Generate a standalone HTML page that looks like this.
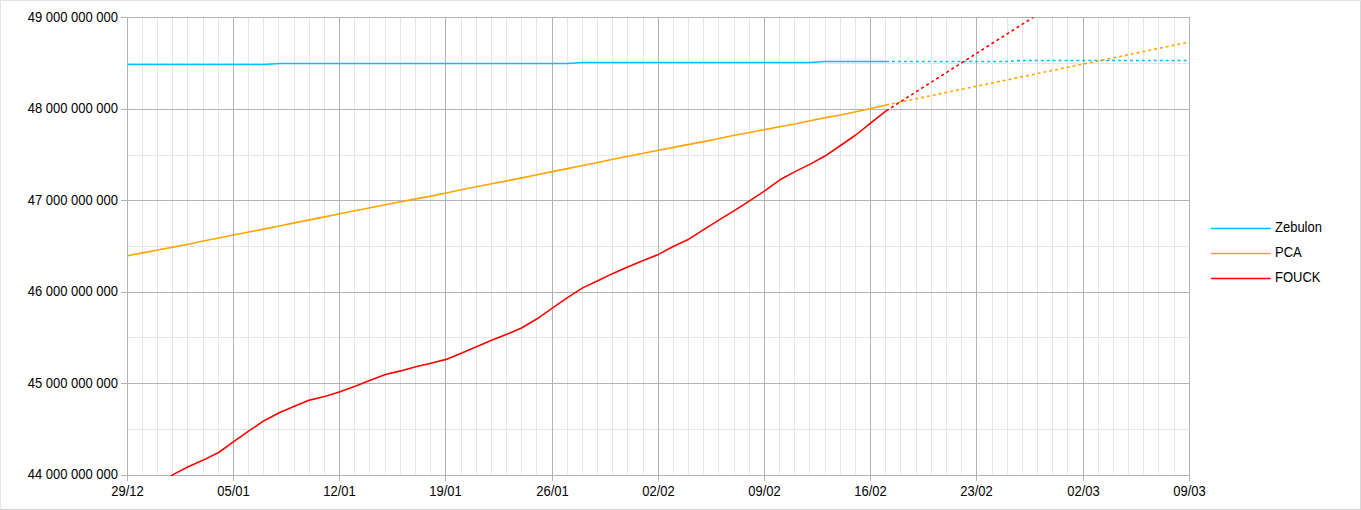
<!DOCTYPE html>
<html><head><meta charset="utf-8"><style>
html,body{margin:0;padding:0;background:#fff;}
body{width:1361px;height:510px;overflow:hidden;position:relative;}
svg{position:absolute;left:0;top:0;}
text{font-family:"Liberation Sans",sans-serif;font-size:13px;fill:#000;}
</style></head><body>
<div style="position:absolute;left:0;top:0;width:1361px;height:1px;background:#e4e4e4"></div>
<div style="position:absolute;left:0;top:0;width:1px;height:510px;background:#e4e4e4"></div>
<div style="position:absolute;left:1360px;top:1px;width:1px;height:509px;background:#d8d8d8"></div>
<div style="position:absolute;left:1px;top:509px;width:1360px;height:1px;background:#d2d2d2"></div>
<svg width="1361" height="510" viewBox="0 0 1361 510">
<defs><clipPath id="plot"><rect x="127" y="17.6" width="1063" height="458.4"/></clipPath></defs>
<rect x="142" y="17" width="1" height="458" fill="#e6e6e6"/>
<rect x="157" y="17" width="1" height="458" fill="#e6e6e6"/>
<rect x="172" y="17" width="1" height="458" fill="#e6e6e6"/>
<rect x="187" y="17" width="1" height="458" fill="#e6e6e6"/>
<rect x="203" y="17" width="1" height="458" fill="#e6e6e6"/>
<rect x="218" y="17" width="1" height="458" fill="#e6e6e6"/>
<rect x="248" y="17" width="1" height="458" fill="#e6e6e6"/>
<rect x="263" y="17" width="1" height="458" fill="#e6e6e6"/>
<rect x="278" y="17" width="1" height="458" fill="#e6e6e6"/>
<rect x="294" y="17" width="1" height="458" fill="#e6e6e6"/>
<rect x="309" y="17" width="1" height="458" fill="#e6e6e6"/>
<rect x="324" y="17" width="1" height="458" fill="#e6e6e6"/>
<rect x="354" y="17" width="1" height="458" fill="#e6e6e6"/>
<rect x="369" y="17" width="1" height="458" fill="#e6e6e6"/>
<rect x="385" y="17" width="1" height="458" fill="#e6e6e6"/>
<rect x="400" y="17" width="1" height="458" fill="#e6e6e6"/>
<rect x="415" y="17" width="1" height="458" fill="#e6e6e6"/>
<rect x="430" y="17" width="1" height="458" fill="#e6e6e6"/>
<rect x="461" y="17" width="1" height="458" fill="#e6e6e6"/>
<rect x="476" y="17" width="1" height="458" fill="#e6e6e6"/>
<rect x="491" y="17" width="1" height="458" fill="#e6e6e6"/>
<rect x="506" y="17" width="1" height="458" fill="#e6e6e6"/>
<rect x="521" y="17" width="1" height="458" fill="#e6e6e6"/>
<rect x="536" y="17" width="1" height="458" fill="#e6e6e6"/>
<rect x="567" y="17" width="1" height="458" fill="#e6e6e6"/>
<rect x="582" y="17" width="1" height="458" fill="#e6e6e6"/>
<rect x="597" y="17" width="1" height="458" fill="#e6e6e6"/>
<rect x="612" y="17" width="1" height="458" fill="#e6e6e6"/>
<rect x="627" y="17" width="1" height="458" fill="#e6e6e6"/>
<rect x="643" y="17" width="1" height="458" fill="#e6e6e6"/>
<rect x="673" y="17" width="1" height="458" fill="#e6e6e6"/>
<rect x="688" y="17" width="1" height="458" fill="#e6e6e6"/>
<rect x="703" y="17" width="1" height="458" fill="#e6e6e6"/>
<rect x="718" y="17" width="1" height="458" fill="#e6e6e6"/>
<rect x="734" y="17" width="1" height="458" fill="#e6e6e6"/>
<rect x="749" y="17" width="1" height="458" fill="#e6e6e6"/>
<rect x="779" y="17" width="1" height="458" fill="#e6e6e6"/>
<rect x="794" y="17" width="1" height="458" fill="#e6e6e6"/>
<rect x="809" y="17" width="1" height="458" fill="#e6e6e6"/>
<rect x="825" y="17" width="1" height="458" fill="#e6e6e6"/>
<rect x="840" y="17" width="1" height="458" fill="#e6e6e6"/>
<rect x="855" y="17" width="1" height="458" fill="#e6e6e6"/>
<rect x="885" y="17" width="1" height="458" fill="#e6e6e6"/>
<rect x="900" y="17" width="1" height="458" fill="#e6e6e6"/>
<rect x="916" y="17" width="1" height="458" fill="#e6e6e6"/>
<rect x="931" y="17" width="1" height="458" fill="#e6e6e6"/>
<rect x="946" y="17" width="1" height="458" fill="#e6e6e6"/>
<rect x="961" y="17" width="1" height="458" fill="#e6e6e6"/>
<rect x="992" y="17" width="1" height="458" fill="#e6e6e6"/>
<rect x="1007" y="17" width="1" height="458" fill="#e6e6e6"/>
<rect x="1022" y="17" width="1" height="458" fill="#e6e6e6"/>
<rect x="1037" y="17" width="1" height="458" fill="#e6e6e6"/>
<rect x="1052" y="17" width="1" height="458" fill="#e6e6e6"/>
<rect x="1067" y="17" width="1" height="458" fill="#e6e6e6"/>
<rect x="1098" y="17" width="1" height="458" fill="#e6e6e6"/>
<rect x="1113" y="17" width="1" height="458" fill="#e6e6e6"/>
<rect x="1128" y="17" width="1" height="458" fill="#e6e6e6"/>
<rect x="1143" y="17" width="1" height="458" fill="#e6e6e6"/>
<rect x="1158" y="17" width="1" height="458" fill="#e6e6e6"/>
<rect x="1174" y="17" width="1" height="458" fill="#e6e6e6"/>
<rect x="128" y="63" width="1061" height="1" fill="#e6e6e6"/>
<rect x="128" y="155" width="1061" height="1" fill="#e6e6e6"/>
<rect x="128" y="246" width="1061" height="1" fill="#e6e6e6"/>
<rect x="128" y="337" width="1061" height="1" fill="#e6e6e6"/>
<rect x="128" y="429" width="1061" height="1" fill="#e6e6e6"/>
<rect x="121" y="17" width="1069" height="1" fill="#b3b3b3"/>
<rect x="121" y="109" width="1069" height="1" fill="#b3b3b3"/>
<rect x="121" y="200" width="1069" height="1" fill="#b3b3b3"/>
<rect x="121" y="292" width="1069" height="1" fill="#b3b3b3"/>
<rect x="121" y="383" width="1069" height="1" fill="#b3b3b3"/>
<rect x="121" y="475" width="1069" height="1" fill="#b3b3b3"/>
<rect x="127" y="17" width="1" height="464" fill="#b3b3b3"/>
<rect x="233" y="17" width="1" height="464" fill="#b3b3b3"/>
<rect x="339" y="17" width="1" height="464" fill="#b3b3b3"/>
<rect x="445" y="17" width="1" height="464" fill="#b3b3b3"/>
<rect x="552" y="17" width="1" height="464" fill="#b3b3b3"/>
<rect x="658" y="17" width="1" height="464" fill="#b3b3b3"/>
<rect x="764" y="17" width="1" height="464" fill="#b3b3b3"/>
<rect x="870" y="17" width="1" height="464" fill="#b3b3b3"/>
<rect x="976" y="17" width="1" height="464" fill="#b3b3b3"/>
<rect x="1083" y="17" width="1" height="464" fill="#b3b3b3"/>
<rect x="1189" y="17" width="1" height="464" fill="#b3b3b3"/>
<text transform="translate(118,22) scale(1,1.11)" text-anchor="end">49 000 000 000</text>
<text transform="translate(118,113) scale(1,1.11)" text-anchor="end">48 000 000 000</text>
<text transform="translate(118,205) scale(1,1.11)" text-anchor="end">47 000 000 000</text>
<text transform="translate(118,296) scale(1,1.11)" text-anchor="end">46 000 000 000</text>
<text transform="translate(118,388) scale(1,1.11)" text-anchor="end">45 000 000 000</text>
<text transform="translate(118,479) scale(1,1.11)" text-anchor="end">44 000 000 000</text>
<text transform="translate(127.5,496) scale(1,1.11)" text-anchor="middle">29/12</text>
<text transform="translate(233.5,496) scale(1,1.11)" text-anchor="middle">05/01</text>
<text transform="translate(339.5,496) scale(1,1.11)" text-anchor="middle">12/01</text>
<text transform="translate(445.5,496) scale(1,1.11)" text-anchor="middle">19/01</text>
<text transform="translate(552.5,496) scale(1,1.11)" text-anchor="middle">26/01</text>
<text transform="translate(658.5,496) scale(1,1.11)" text-anchor="middle">02/02</text>
<text transform="translate(764.5,496) scale(1,1.11)" text-anchor="middle">09/02</text>
<text transform="translate(870.5,496) scale(1,1.11)" text-anchor="middle">16/02</text>
<text transform="translate(976.5,496) scale(1,1.11)" text-anchor="middle">23/02</text>
<text transform="translate(1083.5,496) scale(1,1.11)" text-anchor="middle">02/03</text>
<text transform="translate(1189.5,496) scale(1,1.11)" text-anchor="middle">09/03</text>
<g clip-path="url(#plot)">
<polyline points="886.07,61.55 1007.44,61.55 1022.61,60.45 1189.50,60.45" fill="none" stroke="#00bfff" stroke-width="1.6" stroke-linejoin="round" stroke-dasharray="3 2.95"/>
<polyline points="886.07,105.00 1189.50,42.00" fill="none" stroke="#ffa500" stroke-width="1.6" stroke-linejoin="round" stroke-dasharray="3 2.95"/>
<polyline points="886.07,110.90 1189.50,-82.08" fill="none" stroke="#ff0000" stroke-width="1.6" stroke-linejoin="round" stroke-dasharray="3 2.95"/>
<polyline points="127.50,64.55 264.04,64.55 279.21,63.50 567.47,63.50 582.64,62.50 810.21,62.50 825.39,61.55 886.07,61.55" fill="none" stroke="#00bfff" stroke-width="1.6" stroke-linejoin="round" />
<polyline points="127.50,255.70 142.67,252.91 157.84,250.01 173.01,247.16 188.19,244.31 203.36,240.96 218.53,238.06 233.70,234.95 248.87,232.05 264.04,229.09 279.21,225.99 294.39,222.88 309.56,219.87 324.73,216.87 339.90,213.81 355.07,210.70 370.24,207.74 385.41,204.70 400.59,201.82 415.76,198.91 430.93,196.10 446.10,192.99 461.27,189.70 476.44,186.76 491.61,183.75 506.79,180.89 521.96,177.85 537.13,174.73 552.30,171.61 567.47,168.60 582.64,165.45 597.81,162.41 612.99,159.23 628.16,156.26 643.33,153.30 658.50,150.33 673.67,147.36 688.84,144.36 704.01,141.61 719.19,138.46 734.36,135.26 749.53,132.56 764.70,129.62 779.87,126.67 795.04,123.95 810.21,120.76 825.39,117.65 840.56,114.96 855.73,111.67 870.90,108.44 886.07,105.00" fill="none" stroke="#ffa500" stroke-width="1.6" stroke-linejoin="round" />
<polyline points="157.84,490.00 173.01,474.60 188.19,466.70 203.36,460.10 218.53,452.50 233.70,441.70 248.87,430.90 264.04,420.70 279.21,412.80 294.39,406.20 309.56,400.10 324.73,396.50 339.90,391.80 355.07,386.30 370.24,380.30 385.41,374.50 400.59,370.90 415.76,366.80 430.93,363.20 446.10,359.40 461.27,353.20 476.44,346.80 491.61,340.20 506.79,334.30 521.96,327.80 537.13,318.80 552.30,308.10 567.47,297.70 582.64,287.90 597.81,280.80 612.99,273.40 628.16,266.70 643.33,260.40 658.50,254.40 673.67,246.20 688.84,239.20 704.01,229.40 719.19,219.90 734.36,210.60 749.53,200.80 764.70,190.90 779.87,179.80 795.04,171.60 810.21,164.10 825.39,155.80 840.56,145.50 855.73,135.00 870.90,122.80 886.07,110.90" fill="none" stroke="#ff0000" stroke-width="1.6" stroke-linejoin="round" />
</g>
<line x1="1211.4" y1="228.5" x2="1270.2" y2="228.5" stroke="#00bfff" stroke-width="1.6" stroke-linecap="round"/>
<text transform="translate(1275,232) scale(1,1.11)">Zebulon</text>
<line x1="1211.4" y1="253.5" x2="1270.2" y2="253.5" stroke="#ffa500" stroke-width="1.6" stroke-linecap="round"/>
<text transform="translate(1275,257) scale(1,1.11)">PCA</text>
<line x1="1211.4" y1="278.5" x2="1270.2" y2="278.5" stroke="#ff0000" stroke-width="1.6" stroke-linecap="round"/>
<text transform="translate(1275,282) scale(1,1.11)">FOUCK</text>
</svg>
</body></html>
